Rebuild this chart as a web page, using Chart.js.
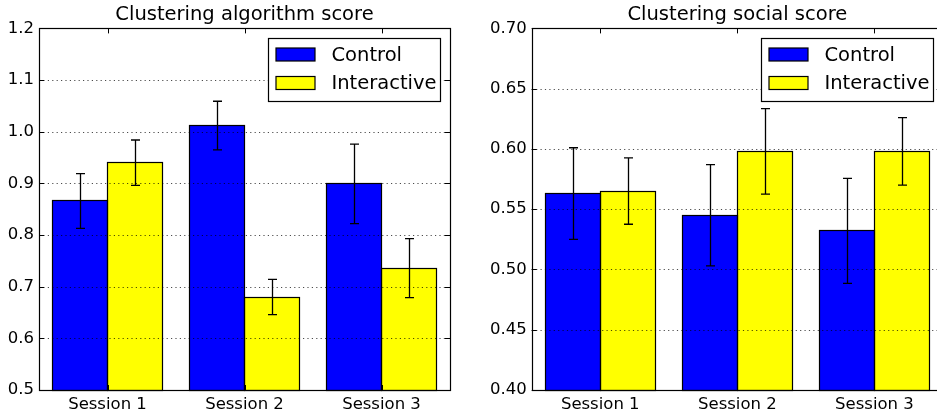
<!DOCTYPE html>
<html lang="en">
<head>
  <meta charset="UTF-8">
  <title>Clustering scores</title>
  <script src="https://cdn.jsdelivr.net/npm/chart.js"></script>
  <style>
    html, body { margin: 0; padding: 0; background: #fff; overflow: hidden; }
    #wrap { position: relative; width: 937px; height: 416px; overflow: hidden; }
    #algo { position: absolute; left: 0; top: 0; }
    #social { position: absolute; left: 470px; top: 0; }
  </style>
</head>
<body>
  <div id="wrap">
    <canvas id="algo" width="470" height="416"></canvas>
    <canvas id="social" width="475" height="416"></canvas>
  </div>

  <script>
    const sessions = ['Session 1', 'Session 2', 'Session 3'];
    const seriesNames = ['Control', 'Interactive'];
    const seriesColors = ['#0000ff', '#ffff00'];

    const algoControl = [0.866, 1.012, 0.899];
    const algoControlErr = [0.053, 0.047, 0.077];
    const algoInteractive = [0.940, 0.680, 0.736];
    const algoInteractiveErr = [0.044, 0.034, 0.057];
    const algoTicks = [0.5, 0.6, 0.7, 0.8, 0.9, 1.0, 1.1, 1.2];

    const socialControl = [0.563, 0.545, 0.532];
    const socialControlErr = [0.038, 0.042, 0.0435];
    const socialInteractive = [0.565, 0.598, 0.598];
    const socialInteractiveErr = [0.0275, 0.0355, 0.028];
    const socialTicks = [0.40, 0.45, 0.50, 0.55, 0.60, 0.65, 0.70];

    const FONT = '"DejaVu Sans", sans-serif';

    // bar outlines, grid on top of bars, error bars, frame, inward ticks, legend
    const decorations = {
      id: 'decorations',
      afterDatasetsDraw(chart) {
        const ctx = chart.ctx;
        const area = chart.chartArea;
        const x = chart.scales.x, y = chart.scales.y;
        ctx.save();

        // black outlines snapped to pixels so neighbouring bars share one edge
        ctx.strokeStyle = '#000';
        ctx.lineWidth = 1.2;
        chart.data.datasets.forEach((ds, i) => {
          chart.getDatasetMeta(i).data.forEach(bar => {
            const l = Math.floor(bar.x - bar.width / 2) + 0.5;
            const r = Math.floor(bar.x + bar.width / 2) + 0.5;
            const t = Math.floor(bar.y) + 0.5;
            const b = Math.floor(Math.min(bar.base, area.bottom)) + 0.5;
            ctx.strokeRect(l, t, r - l, b - t);
          });
        });

        // dotted grid
        ctx.strokeStyle = 'rgba(0,0,0,0.7)';
        ctx.lineWidth = 1;
        ctx.setLineDash([1.2, 3.2]);
        y.ticks.forEach(t => {
          const py = Math.round(y.getPixelForValue(t.value)) + 0.5;
          if (py <= area.top + 1 || py >= area.bottom - 1) return;
          ctx.beginPath();
          ctx.moveTo(area.left, py);
          ctx.lineTo(area.right, py);
          ctx.stroke();
        });
        ctx.setLineDash([]);

        // error bars
        ctx.strokeStyle = '#000';
        ctx.lineWidth = 1.3;
        chart.data.datasets.forEach((ds, i) => {
          chart.getDatasetMeta(i).data.forEach((bar, j) => {
            const v = ds.data[j], e = ds.errors[j];
            const top = y.getPixelForValue(v + e);
            const bot = y.getPixelForValue(v - e);
            const cx = Math.round(bar.x) + 0.5;
            ctx.beginPath();
            ctx.moveTo(cx, top); ctx.lineTo(cx, bot);
            ctx.moveTo(cx - 4.5, top); ctx.lineTo(cx + 4.5, top);
            ctx.moveTo(cx - 4.5, bot); ctx.lineTo(cx + 4.5, bot);
            ctx.stroke();
          });
        });

        // inward ticks
        ctx.lineWidth = 1;
        y.ticks.forEach(t => {
          const py = Math.round(y.getPixelForValue(t.value)) + 0.5;
          ctx.beginPath();
          ctx.moveTo(area.left, py); ctx.lineTo(area.left + 5, py);
          ctx.moveTo(area.right, py); ctx.lineTo(area.right - 5, py);
          ctx.stroke();
        });
        sessions.forEach((s, i) => {
          const px = Math.round(x.getPixelForTick(i)) + 0.5;
          ctx.beginPath();
          ctx.moveTo(px, area.top); ctx.lineTo(px, area.top + 5);
          ctx.moveTo(px, area.bottom); ctx.lineTo(px, area.bottom - 5);
          ctx.stroke();
        });

        // frame
        ctx.lineWidth = 1.2;
        ctx.strokeRect(Math.round(area.left) + 0.5, Math.round(area.top) + 0.5,
          Math.round(area.right - area.left), Math.round(area.bottom - area.top));

        // legend box in the upper right of the axes
        const lw = 172, lh = 63;
        const lx = Math.round(area.right - 10 - lw) + 0.5;
        const ly = Math.round(area.top + 10) + 0.5;
        ctx.fillStyle = '#fff';
        ctx.fillRect(lx, ly, lw, lh);
        ctx.lineWidth = 1.2;
        ctx.strokeRect(lx, ly, lw, lh);
        ctx.font = '19.5px ' + FONT;
        ctx.textBaseline = 'middle';
        ctx.textAlign = 'left';
        chart.data.datasets.forEach((ds, i) => {
          const cy = ly + 16 + i * 28.5;
          ctx.fillStyle = ds.backgroundColor;
          ctx.fillRect(lx + 7.5, cy - 6.5, 39, 13);
          ctx.lineWidth = 1.2;
          ctx.strokeStyle = '#000';
          ctx.strokeRect(lx + 7.5, cy - 6.5, 39, 13);
          ctx.fillStyle = '#000';
          ctx.fillText(ds.label, lx + 63, cy + 1);
        });
        ctx.restore();
      }
    };

    function makeChart(id, title, ctrl, ctrlErr, inter, interErr, ticks, decimals, yWidth, padRight) {
      const ctx = document.getElementById(id).getContext('2d');
      return new Chart(ctx, {
        type: 'bar',
        data: {
          labels: sessions,
          datasets: [
            { label: seriesNames[0], data: ctrl, errors: ctrlErr, backgroundColor: seriesColors[0], borderWidth: 0 },
            { label: seriesNames[1], data: inter, errors: interErr, backgroundColor: seriesColors[1], borderWidth: 0 }
          ]
        },
        options: {
          responsive: false,
          animation: false,
          devicePixelRatio: 1,
          layout: { padding: { left: 0, right: padRight, top: 0, bottom: 0 } },
          datasets: {
            bar: { categoryPercentage: 0.8, barPercentage: 1.0 }
          },
          plugins: {
            legend: { display: false },
            tooltip: { enabled: false },
            title: {
              display: true,
              text: title,
              fullSize: false,
              color: '#000',
              font: { family: FONT, size: 19.5, weight: 'normal', lineHeight: 1.2 },
              padding: { top: 3, bottom: 2 }
            }
          },
          scales: {
            x: {
              grid: { display: false, drawTicks: false },
              border: { display: false },
              ticks: { color: '#000', padding: 5, font: { family: FONT, size: 16.5 } },
              afterFit(scale) { scale.height = 26; }
            },
            y: {
              min: ticks[0],
              max: ticks[ticks.length - 1],
              afterBuildTicks(scale) { scale.ticks = ticks.map(v => ({ value: v })); },
              grid: { display: false, drawTicks: false },
              border: { display: false },
              ticks: {
                color: '#000',
                padding: 5,
                font: { family: FONT, size: 16.5 },
                callback: v => Number(v).toFixed(decimals)
              },
              afterFit(scale) { scale.width = yWidth; }
            }
          }
        },
        plugins: [decorations]
      });
    }

    makeChart('algo', 'Clustering algorithm score',
      algoControl, algoControlErr, algoInteractive, algoInteractiveErr, algoTicks, 1, 39, 20);
    makeChart('social', 'Clustering social score',
      socialControl, socialControlErr, socialInteractive, socialInteractiveErr, socialTicks, 2, 61.7, 2);
  </script>
</body>
</html>
